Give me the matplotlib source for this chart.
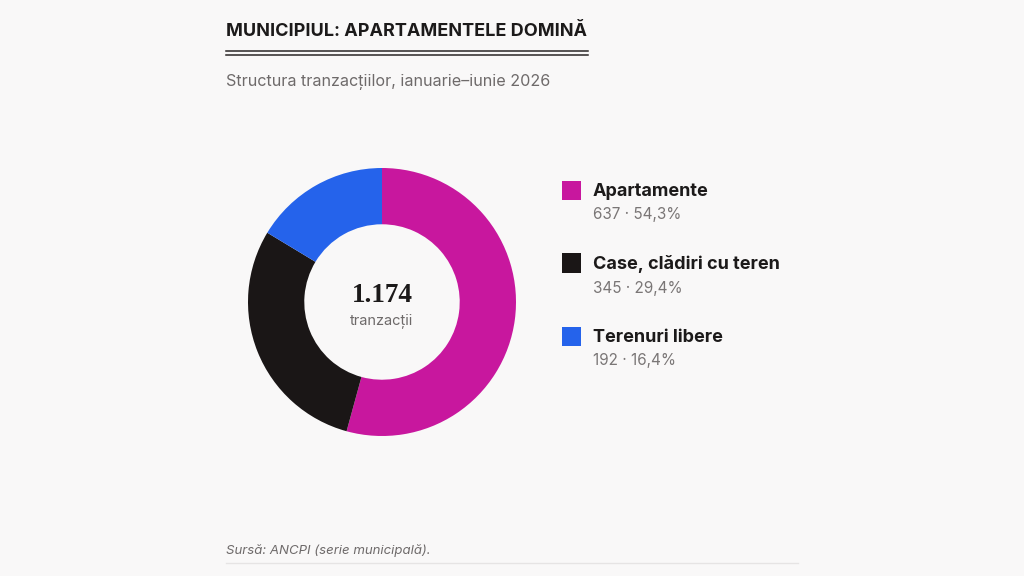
import matplotlib
matplotlib.use("Agg")
import matplotlib.pyplot as plt
from matplotlib.patches import Rectangle
from matplotlib.lines import Line2D

plt.rcParams['font.family'] = ['Inter', 'DejaVu Sans']

# date
categorii = ["Apartamente", "Case, clădiri cu teren", "Terenuri libere"]
valori = [637, 345, 192]
procente = ["54,3%", "29,4%", "16,4%"]
culori = ["#c8179e", "#1a1616", "#2563eb"]
total_label = "1.174"

bg = "#f9f8f8"
W, H = 1024, 576
fig = plt.figure(figsize=(W / 100, H / 100), dpi=100, facecolor=bg)

def fx(x):
    return x / W

def fy(y):
    return 1 - y / H

# titlu
fig.text(fx(226), fy(31), "MUNICIPIUL: APARTAMENTELE DOMINĂ", fontsize=13,
         fontweight="bold", color="#1c1a1a", va="center", ha="left")
for yy in (51, 54.5):
    fig.add_artist(Line2D([fx(226), fx(588)], [fy(yy), fy(yy)], color="#2a2626", lw=1.1))
fig.text(fx(226), fy(81), "Structura tranzacțiilor, ianuarie–iunie 2026", fontsize=11.6,
         color="#6e6a6a", va="center", ha="left")

# donut
cx, cy, r = 382, 302, 134
ax = fig.add_axes([fx(cx - r), fy(cy + r), 2 * r / W, 2 * r / H])
ax.set_facecolor(bg)
ax.pie(valori, colors=culori, startangle=90, counterclock=False, radius=1,
       wedgeprops=dict(width=0.42, edgecolor="none"))
ax.set_xlim(-1, 1)
ax.set_ylim(-1, 1)
ax.set_aspect("equal")
ax.axis("off")
ax.text(0, 0.05, total_label, fontsize=19.5, family="Liberation Serif", fontweight="bold",
        color="#1c1a1a", ha="center", va="center")
ax.text(0, -0.14, "tranzacții", fontsize=10.5, color="#6e6a6a", ha="center", va="center")

# legenda
y0 = 190
dy = 73
for i, (cat, v, p, c) in enumerate(zip(categorii, valori, procente, culori)):
    y = y0 + i * dy
    fig.add_artist(Rectangle((fx(562), fy(y + 9.5)), 19 / W, 19 / H, facecolor=c,
                             edgecolor="none", transform=fig.transFigure))
    fig.text(fx(593), fy(y + 1), cat, fontsize=13, fontweight="bold", color="#1c1a1a",
             va="center", ha="left")
    fig.text(fx(593), fy(y + 25), f"{v} · {p}", fontsize=11, color="#7a7676",
             va="center", ha="left")

# sursa
fig.text(fx(226), fy(551), "Sursă: ANCPI (serie municipală).", fontsize=9.5, style="italic",
         color="#6e6a6a", va="center", ha="left")
fig.add_artist(Line2D([fx(226), fx(798)], [fy(563), fy(563)], color="#e6e4e4", lw=1))

fig.savefig("out.png", dpi=100, facecolor=bg)
